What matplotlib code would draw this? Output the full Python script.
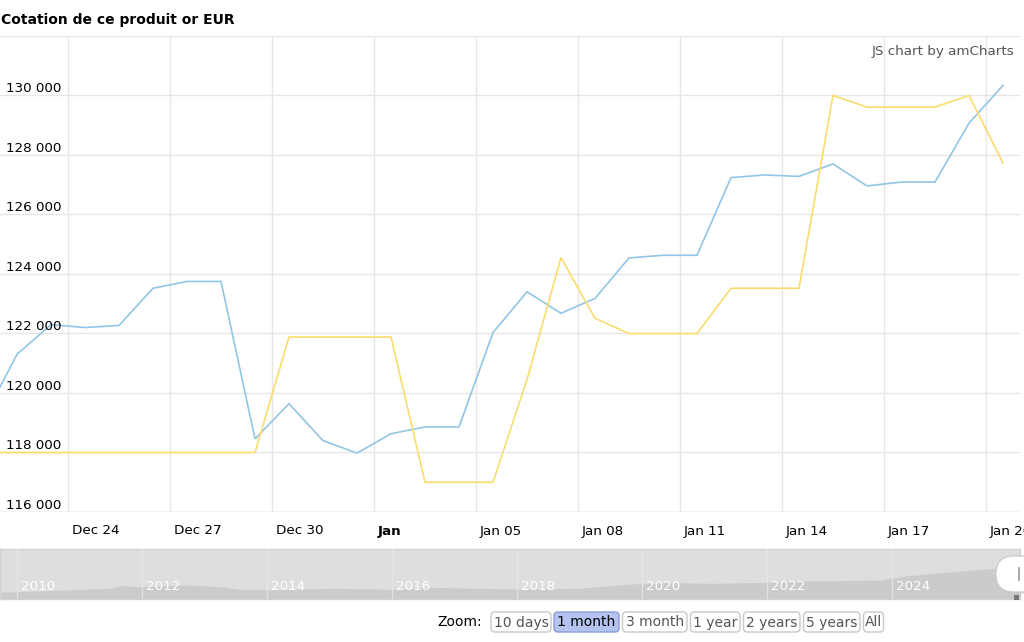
import matplotlib
matplotlib.use("Agg")
import matplotlib.pyplot as plt
import matplotlib.dates as mdates
from matplotlib.patches import FancyBboxPatch, Rectangle
from matplotlib import transforms
import pandas as pd
import numpy as np

plt.rcParams['font.family'] = ['DejaVu Sans']

# ---------------- data ----------------
start_date = "2025-12-21"
end_date = "2026-01-20"
blue_values = [119100, 121300, 122300, 122200, 122270, 123520, 123750, 123750,
               118460, 119640, 118400,
               117980, 118630, 118860, 118860, 122030, 123400, 122680, 123180,
               124540, 124630, 124630, 127240, 127330, 127280, 127700, 126960,
               127090, 127090, 129070, 130340]
yellow_values = [118000, 118000, 118000, 118000, 118000, 118000, 118000, 118000,
                 118000, 121880, 121880,
                 121880, 121880, 117000, 117000, 117000, 120450, 124550, 122510,
                 122000, 122000, 122000, 123520, 123520, 123520, 130000, 129610,
                 129610, 129610, 130000, 127730]
y_ticks = [116000, 118000, 120000, 122000, 124000, 126000, 128000, 130000, 132000]
y_tick_labels = ["116 000", "118 000", "120 000", "122 000", "124 000",
                 "126 000", "128 000", "130 000", ""]
x_tick_dates = ["2025-12-24", "2025-12-27", "2025-12-30", "2026-01-02", "2026-01-05",
                "2026-01-08", "2026-01-11", "2026-01-14", "2026-01-17", "2026-01-20"]
x_tick_labels = ["Dec 24", "Dec 27", "Dec 30", "Jan", "Jan 05", "Jan 08",
                 "Jan 11", "Jan 14", "Jan 17", "Jan 20"]
x_tick_bold = [False, False, False, True, False, False, False, False, False, False]

scroll_years = [2009.73, 2010.0, 2010.8, 2011.5, 2011.65, 2011.97, 2012.72, 2013.25,
                2013.57, 2014.0, 2015.06, 2016.02, 2016.66, 2017.92, 2018.99, 2019.64,
                2020.0, 2020.6, 2021.12, 2021.97, 2022.72, 2023.8, 2024.21, 2024.85,
                2025.4, 2025.65, 2026.05]
scroll_values = [28000, 30700, 37800, 45000, 55900, 51700, 58800, 51700,
                 40700, 37800, 45000, 40700, 49100, 42000, 45000, 58800,
                 65900, 68500, 65900, 70100, 75600, 79800, 96600, 112000,
                 124700, 129000, 130300]
scroll_label_years = [2010, 2012, 2014, 2016, 2018, 2020, 2022, 2024]

zoom_buttons = ["10 days", "1 month", "3 month", "1 year", "2 years", "5 years", "All"]
selected_button = "1 month"

# ---------------- layout ----------------
W, H = 1024, 642
BLUE = "#92c5e6"
YELLOW = "#fadc6c"
GRID = "#e6e6e6"

def rect(x0, y0, x1, y1):
    return [x0 / W, 1 - y1 / H, (x1 - x0) / W, (y1 - y0) / H]

fig = plt.figure(figsize=(W / 100, H / 100), dpi=100)
fig.patch.set_facecolor("white")

# main chart
ax = fig.add_axes(rect(0, 36, 1020, 512))
dates = pd.date_range(start_date, end_date, freq="D")
xc = mdates.date2num(dates) + 0.5
ax.plot(xc, blue_values, color=BLUE, lw=1.2, zorder=3, solid_joinstyle="miter")
ax.plot(xc, yellow_values, color=YELLOW, lw=1.2, zorder=3, solid_joinstyle="miter")

ax.set_xlim(mdates.date2num(pd.Timestamp("2025-12-22")),
            mdates.date2num(pd.Timestamp("2026-01-21")))
ax.set_ylim(y_ticks[0], y_ticks[-1])
for s in ax.spines.values():
    s.set_visible(False)
ax.set_yticks(y_ticks)
xt = [mdates.date2num(pd.Timestamp(d)) for d in x_tick_dates]
ax.set_xticks(xt)
ax.tick_params(length=0, labelleft=False, labelbottom=False)
ax.grid(True, color=GRID, lw=1.0, zorder=0)
ax.axhline(y_ticks[0], color="#d9d9d9", lw=1.0, zorder=1)

# y labels inside the plot, just above their gridline
ytrans = transforms.offset_copy(ax.get_yaxis_transform(), fig=fig, x=6, y=3, units="dots")
for v, lab in zip(y_ticks, y_tick_labels):
    if lab:
        ax.text(0, v, lab, transform=ytrans, ha="left", va="baseline",
                fontsize=9.7, color="#000000", zorder=4)

# x labels below the axis, starting just right of the gridline
xtrans = transforms.blended_transform_factory(ax.transData, fig.transFigure)
xtrans = transforms.offset_copy(xtrans, fig=fig, x=4, y=0, units="dots")
for d, lab, b in zip(xt, x_tick_labels, x_tick_bold):
    ax.text(d, 1 - 531 / H, lab, transform=xtrans, ha="left", va="center",
            fontsize=9.7, fontweight="bold" if b else "normal", color="#000000",
            clip_on=False)

# title and credit
fig.text(1 / W, 1 - 20 / H, "Cotation de ce produit or EUR", ha="left", va="center",
         fontsize=10, fontweight="bold", color="#000000")
fig.text(1014 / W, 1 - 52 / H, "JS chart by amCharts", ha="right", va="center",
         fontsize=9.7, color="#555555")

# scrollbar
sb = fig.add_axes(rect(0, 549, 1020, 599))
sb.set_facecolor("#dedede")
sb.fill_between(scroll_years, 0, scroll_values, color="#cbcbcb", lw=0, zorder=2)
sb.set_xlim(scroll_years[0], scroll_years[-1])
sb.set_ylim(0, 210000)
sb.set_xticks([])
sb.set_yticks([])
for s in sb.spines.values():
    s.set_color("#d2d2d2")
    s.set_linewidth(1.0)
for yr in scroll_label_years:
    sb.axvline(yr, color="#e8e8e8", lw=1.0, alpha=0.8, zorder=3)
    sb.text(yr, 0.24, str(yr), transform=transforms.offset_copy(
        sb.get_xaxis_transform(), fig=fig, x=4, y=0, units="dots"),
        ha="left", va="center", fontsize=9.7, color="white", zorder=4)

# UI overlay (pixel coordinates)
ui = fig.add_axes([0, 0, 1, 1], zorder=10)
ui.set_xlim(0, W)
ui.set_ylim(H, 0)
ui.axis("off")
ui.patch.set_alpha(0)

# scrollbar handle
ui.add_patch(FancyBboxPatch((998, 558), 50, 36, boxstyle="round,pad=0,rounding_size=18",
                            facecolor="#bbbbbb", edgecolor="none", alpha=0.35))
ui.add_patch(FancyBboxPatch((996, 556), 50, 36, boxstyle="round,pad=0,rounding_size=18",
                            facecolor="white", edgecolor="#cfcfcf", lw=1.0))
ui.plot([1018.5, 1018.5], [568, 580], color="#999999", lw=1.2)
ui.add_patch(Rectangle((1014, 595), 5, 4.5, facecolor="#777777", edgecolor="none"))

# zoom buttons
ui.text(437, 622, "Zoom:", ha="left", va="center", fontsize=10, color="#000000")
btn_x = [(491, 551), (554, 619), (622.5, 687), (690.5, 740), (743.5, 800), (803.5, 860), (863.5, 883.5)]
for lab, (x0, x1) in zip(zoom_buttons, btn_x):
    sel = lab == selected_button
    ui.add_patch(FancyBboxPatch((x0, 612), x1 - x0, 20, boxstyle="round,pad=0,rounding_size=4",
                                facecolor="#b4c3ef" if sel else "white",
                                edgecolor="#8b9cd6" if sel else "#c8c8c8", lw=1.0))
    ui.text((x0 + x1) / 2, 622.5, lab, ha="center", va="center", fontsize=10,
            color="#000000" if sel else "#555555")

fig.savefig("out.png", dpi=100, facecolor="white")
